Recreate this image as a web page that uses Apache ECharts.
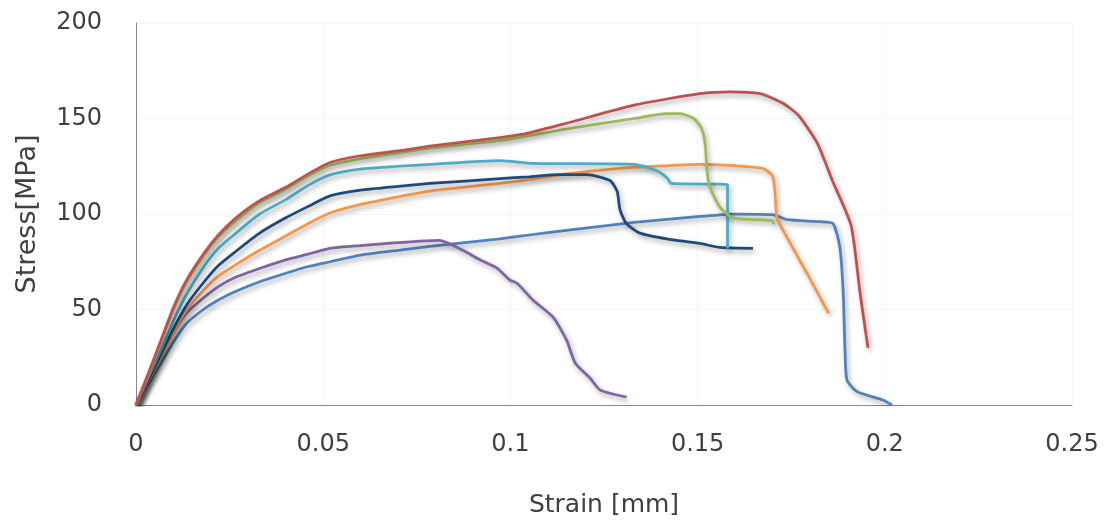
<!DOCTYPE html>
<html>
<head>
<meta charset="utf-8">
<script src="https://cdn.jsdelivr.net/npm/echarts@6/dist/echarts.min.js"></script>
<style>
html,body{margin:0;padding:0;background:#fff;}
#chart{width:1111px;height:526px;}
</style>
</head>
<body>
<div id="chart"></div>
<script>
// Strain [mm], Stress [MPa] pairs
var xTicks = [0, 0.05, 0.1, 0.15, 0.2, 0.25];
var yTicks = [0, 50, 100, 150, 200];

var redSeries = [[0,0],[0.003,15],[0.0067,34],[0.010,51],[0.0134,65],[0.018,79],[0.022,89],[0.0267,98],[0.033,107],[0.040,114],[0.046,121],[0.0518,127],[0.06,130.5],[0.07,133],[0.0785,135.5],[0.0972,140],[0.105,142.5],[0.115,147.5],[0.133,157],[0.1506,163],[0.1587,164],[0.1667,163],[0.1728,158],[0.177,151.5],[0.182,137],[0.186,117.5],[0.191,94],[0.1934,58.5],[0.1955,30]];
var greenSeries = [[0,0],[0.003,14],[0.0067,33],[0.010,50],[0.0134,64],[0.018,78],[0.022,88],[0.0267,96.5],[0.033,106],[0.040,113],[0.046,120],[0.0518,125.5],[0.06,129],[0.07,132],[0.0785,134.5],[0.0972,138.5],[0.115,144.5],[0.133,150],[0.1418,152.5],[0.1453,152.5],[0.149,150],[0.151,145],[0.152,137],[0.1525,123],[0.1533,114],[0.156,103.5],[0.1595,98],[0.170,96.5],[0.1704,94.5]];
var cyanSeries = [[0,0],[0.003,13],[0.0067,29],[0.010,44],[0.0134,57.5],[0.018,72],[0.022,82],[0.0267,90],[0.033,100],[0.040,107.5],[0.046,115],[0.0518,120.5],[0.06,123.5],[0.07,125],[0.0785,126],[0.0972,128],[0.106,126.5],[0.133,126],[0.139,122.7],[0.1418,119],[0.143,116],[0.158,115.4],[0.158,82]];
var navySeries = [[0,0],[0.003,12],[0.0067,27],[0.010,40],[0.0134,52],[0.018,64],[0.022,73],[0.0267,80.5],[0.033,90],[0.040,98],[0.046,104],[0.0518,109.5],[0.06,112.5],[0.07,114.5],[0.0785,116],[0.0972,118.5],[0.105,119.5],[0.113,120.6],[0.1205,120.6],[0.1266,117.5],[0.1285,112],[0.1293,102],[0.131,95],[0.1346,90],[0.1418,87],[0.1506,84.6],[0.156,82.5],[0.1648,82]];
var orangeSeries = [[0,0],[0.003,11],[0.0067,25],[0.010,38],[0.0134,49.5],[0.018,60],[0.022,67.5],[0.0267,73.5],[0.033,81],[0.040,88.5],[0.046,95],[0.0518,100.5],[0.06,105],[0.07,109],[0.0785,112],[0.0972,116],[0.105,118],[0.115,121],[0.1285,123.8],[0.137,124.8],[0.1506,126],[0.1595,125.3],[0.1675,123.8],[0.170,120],[0.1707,110.7],[0.1712,98],[0.1739,87.7],[0.1792,69],[0.185,48]];
var blueSeries = [[0,0],[0.003,10],[0.0067,22],[0.010,33],[0.0134,42.5],[0.018,50],[0.022,55],[0.0267,59.5],[0.033,64.5],[0.040,69],[0.046,72.5],[0.0518,75],[0.06,78.5],[0.07,81],[0.0785,83],[0.0972,87],[0.105,89],[0.115,91.4],[0.133,95.6],[0.1506,98.7],[0.1595,100],[0.170,99.7],[0.174,97],[0.1827,96],[0.1862,95],[0.188,82.5],[0.1889,58.5],[0.1894,27],[0.1899,13],[0.1926,7],[0.1995,2.6],[0.2019,0]];
var purpleSeries = [[0,0],[0.003,12],[0.0067,26],[0.010,38],[0.0134,48],[0.018,56],[0.022,62],[0.0267,67],[0.033,71.5],[0.040,76],[0.046,79],[0.0518,82],[0.06,83.5],[0.0697,85],[0.081,86.2],[0.0873,81],[0.0919,76],[0.0964,71.7],[0.0999,65.4],[0.1018,63.7],[0.106,55],[0.1114,46],[0.115,34],[0.1173,22],[0.1213,14],[0.124,7.8],[0.131,4.2]];

var seriesList = [
  {name:'S1', data: blueSeries, color:'#4F81BD'},
  {name:'S2', data: purpleSeries, color:'#8064A2'},
  {name:'S3', data: orangeSeries, color:'#F79646'},
  {name:'S4', data: navySeries, color:'#1F497D'},
  {name:'S5', data: cyanSeries, color:'#4BACC6'},
  {name:'S6', data: greenSeries, color:'#9BBB59'},
  {name:'S7', data: redSeries, color:'#C0504D'}
];

var chart = echarts.init(document.getElementById('chart'), null, {renderer:'canvas'});
var textColor = '#404040';
var option = {
  animation: false,
  backgroundColor: '#fff',
  grid: {left: 136, top: 23, right: 39, bottom: 121, containLabel: false},
  xAxis: {
    type: 'value', min: xTicks[0], max: xTicks[xTicks.length-1], interval: 0.05,
    name: 'Strain [mm]', nameLocation: 'middle', nameGap: 88,
    nameTextStyle: {fontFamily: 'DejaVu Sans', fontSize: 25, color: textColor},
    axisLine: {lineStyle: {color: '#8a8a8a', width: 1}},
    axisTick: {show: false},
    axisLabel: {fontFamily: 'DejaVu Sans', fontSize: 24, color: textColor, margin: 28,
      formatter: function(v){ return String(+v.toFixed(3)); }},
    splitLine: {show: true, lineStyle: {color: '#f5f5f5', width: 1}}
  },
  yAxis: {
    type: 'value', min: yTicks[0], max: yTicks[yTicks.length-1], interval: 50,
    name: 'Stress[MPa]', nameLocation: 'middle', nameGap: 95,
    nameTextStyle: {fontFamily: 'DejaVu Sans', fontSize: 27, color: textColor},
    axisLine: {show: true, lineStyle: {color: '#8a8a8a', width: 1}},
    axisTick: {show: false},
    axisLabel: {fontFamily: 'DejaVu Sans', fontSize: 24, color: textColor, margin: 34},
    splitLine: {show: true, lineStyle: {color: '#f5f5f5', width: 1}}
  },
  series: seriesList.map(function(s){
    return {
      name: s.name, type: 'line', data: s.data, showSymbol: false, smooth: 0.2,
      lineStyle: {color: s.color, width: 2.75, shadowColor: 'rgba(0,0,0,0.35)', shadowBlur: 5, shadowOffsetX: 2, shadowOffsetY: 3},
      itemStyle: {color: s.color}
    };
  })
};
chart.setOption(option);
</script>
</body>
</html>
